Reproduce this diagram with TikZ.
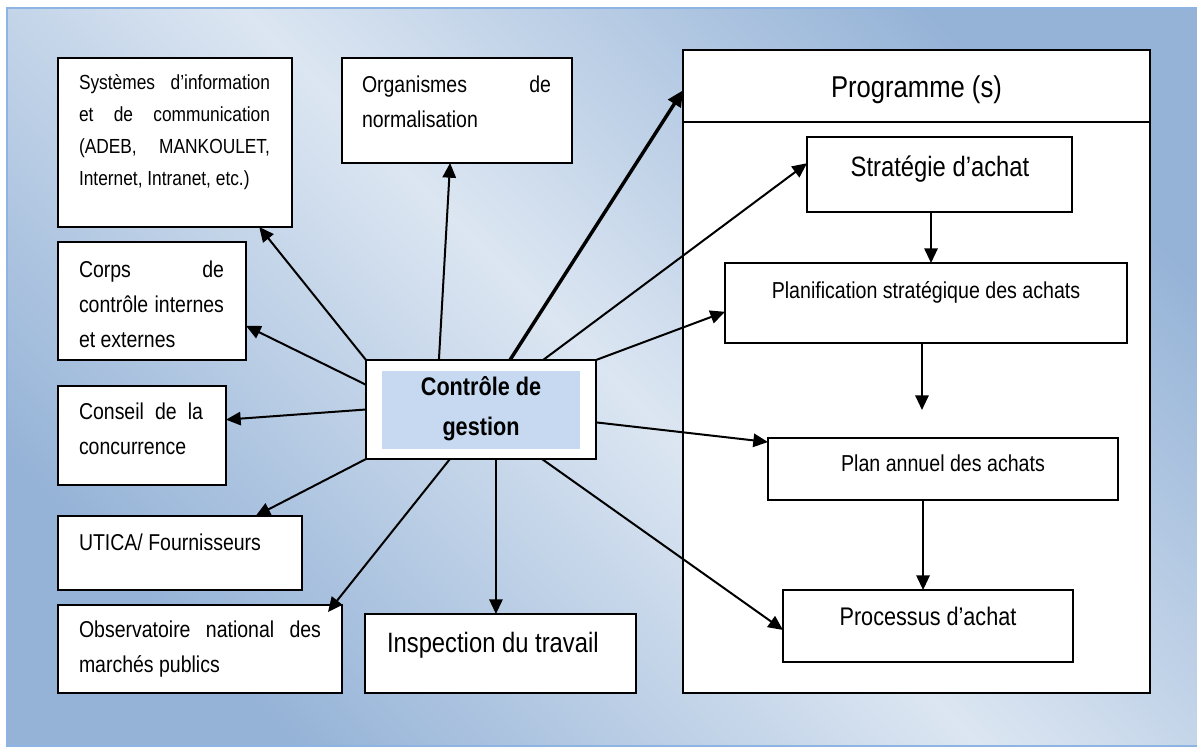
\documentclass[tikz,border=0pt]{standalone}
\usepackage{fontspec}
\setmainfont{Liberation Sans}[FakeStretch=0.85]
\usetikzlibrary{arrows.meta,fit,calc}

\definecolor{bgdark}{HTML}{95B3D7}
\definecolor{bglight}{HTML}{DCE6F2}
\definecolor{bgrule}{HTML}{8EB4E3}
\definecolor{ctrlfill}{HTML}{C6D9F1}

% type sizes
\newcommand\fsys{\fontsize{15.3}{24}\selectfont}
\newcommand\fsmall{\fontsize{17.2}{26.25}\selectfont}
\newcommand\fbig{\fontsize{21}{26}\selectfont}
\newcommand\fprog{\fontsize{22.6}{28}\selectfont}
\newcommand\fplan{\fontsize{17.3}{22}\selectfont}
\newcommand\fproc{\fontsize{19.1}{24}\selectfont}
\newcommand\fctrl{\fontsize{19.1}{30}\selectfont\bfseries}

\begin{document}
\begin{tikzpicture}[x=0.75pt,y=-0.75pt,
  box/.style={draw=black, fill=white, line width=1.5pt, inner sep=0pt, outer sep=0pt},
  lbl/.style={inner sep=0pt, outer sep=0pt, align=left, anchor=north west, text=black},
  ctrtxt/.style={inner sep=0pt, outer sep=0pt, anchor=base, text=black},
  conn/.style={line width=1.5pt, -{Triangle[length=11pt,width=10pt]}},
  thickconn/.style={line width=2.6pt, -{Triangle[length=12pt,width=11pt]}}]

\useasboundingbox (0,0) rectangle (1197,747);

% gradient backdrop
\begin{scope}
  \clip (0,0) rectangle (1197,747);
  \shade[top color=bgdark, bottom color=bgdark, middle color=bglight, shading angle=-45]
    (7,8) rectangle (1215,746);
  \draw[bgrule, line width=1.5pt] (7,8) rectangle (1215,746);
\end{scope}

% left column and upper boxes
\node[box, fit={(58,58)(292,227)}] (sys) {};
\node[lbl, font=\fsys] (sys-t) at (79,66.6)
  {\makebox[143.25pt][s]{Systèmes d’information\strut}\\
   \makebox[143.25pt][s]{et de communication\strut}\\
   \makebox[143.25pt][s]{(ADEB, MANKOULET,\strut}\\
   Internet, Intranet, etc.)\strut};

\node[box, fit={(342,58)(572,163)}] (org) {};
\node[lbl, font=\fsmall] (org-t) at (362,67.5)
  {\makebox[141.75pt][s]{Organismes de\strut}\\
   normalisation\strut};

\node[box, fit={(58,242)(246,360)}] (corps) {};
\node[lbl, font=\fsmall] (corps-t) at (79,252.5)
  {\makebox[108.75pt][s]{Corps de\strut}\\
   \makebox[108.75pt][s]{contrôle internes\strut}\\
   et externes\strut};

\node[box, fit={(58,386)(226,485)}] (conseil) {};
\node[lbl, font=\fsmall] (conseil-t) at (79,394.5)
  {\makebox[93pt][s]{Conseil de la\strut}\\
   concurrence\strut};

\node[box, fit={(58,516)(302,590)}] (utica) {};
\node[ctrtxt, anchor=base west, font=\fsmall] (utica-t) at (79,550) {UTICA/ Fournisseurs};

\node[box, fit={(58,605)(342,693)}] (obs) {};
\node[lbl, font=\fsmall] (obs-t) at (79,612.5)
  {\makebox[181.5pt][s]{Observatoire national des\strut}\\
   marchés publics\strut};

\node[box, fit={(365,614)(636,693)}] (insp) {};
\node[ctrtxt, anchor=base west, font=\fbig] (insp-t) at (387,652) {Inspection du travail};

% central box
\node[box, fit={(366,360)(596,459)}] (ctrl) {};
\node[fill=ctrlfill, inner sep=0pt, outer sep=0pt, fit={(382,371)(580,449)}] (ctrl-in) {};
\node[inner sep=0pt, anchor=north, align=center, font=\fctrl] (ctrl-t) at (481,367)
  {Contrôle de\strut\\gestion\strut};

% programme frame
\node[box, fit={(683,50)(1150,693)}] (prog) {};
\node[box, fit={(683,50)(1150,122)}] (prog-head) {};
\node[ctrtxt, font=\fprog] (prog-t) at (916.5,97) {Programme (s)};

\node[box, fit={(807,137)(1072,212)}] (strat) {};
\node[ctrtxt, font=\fbig] (strat-t) at (940,176) {Stratégie d’achat};

\node[box, fit={(725,263)(1127,343)}] (planif) {};
\node[ctrtxt, font=\fplan] (planif-t) at (926,298) {Planification stratégique des achats};

\node[box, fit={(768,438)(1118,500)}] (plan) {};
\node[ctrtxt, font=\fplan] (plan-t) at (943,471) {Plan annuel des achats};

\node[box, fit={(783,590)(1073,662)}] (proc) {};
\node[ctrtxt, font=\fproc] (proc-t) at (928,625) {Processus d’achat};

% connectors leaving the central box
\draw[conn] (ctrl.north west) -- ($(sys.south west)!0.86!(sys.south east)$);
\draw[conn] ($(ctrl.north west)!0.25!(ctrl.south west)$) -- ($(corps.north east)!0.71!(corps.south east)$);
\draw[conn] (ctrl.west) -- ($(conseil.north east)!0.34!(conseil.south east)$);
\draw[conn] (ctrl.south west) -- ($(utica.north west)!0.81!(utica.north east)$);
\coordinate (obs-in) at ($(obs.north east)+(-14,7)$);
\draw[conn] ($(ctrl.south west)!0.365!(ctrl.south east)$) -- (obs-in);
\coordinate (c-insp) at ($(ctrl.south west)!0.565!(ctrl.south east)$);
\draw[conn] (c-insp) -- (c-insp |- insp.north);
\draw[conn] ($(ctrl.south west)!0.765!(ctrl.south east)$) -- ($(proc.north west)!0.555!(proc.south west)$);
\draw[conn] ($(ctrl.north east)!0.63!(ctrl.south east)$) -- ($(plan.north west)!0.065!(plan.south west)$);
\draw[conn] (ctrl.north east) -- ($(planif.north west)!0.61!(planif.south west)$);
\draw[conn] ($(ctrl.north west)!0.77!(ctrl.north east)$) -- ($(strat.north west)!0.35!(strat.south west)$);
\draw[thickconn] ($(ctrl.north west)!0.626!(ctrl.north east)$) -- ($(prog-head.north west)!0.56!(prog-head.south west)$);
\draw[conn] ($(ctrl.north west)!0.317!(ctrl.north east)$) -- ($(org.south west)!0.47!(org.south east)$);

% chain inside the programme frame
\coordinate (s1) at ($(strat.south west)!0.468!(strat.south east)$);
\draw[conn] (s1) -- (s1 |- planif.north);
\coordinate (p1) at ($(planif.south west)!0.49!(planif.south east)$);
\coordinate (p1end) at ($(p1)+(0,67)$);
\draw[conn] (p1) -- (p1end);
\coordinate (a1) at ($(plan.south west)!0.443!(plan.south east)$);
\draw[conn] (a1) -- (a1 |- proc.north);

\end{tikzpicture}
\end{document}
